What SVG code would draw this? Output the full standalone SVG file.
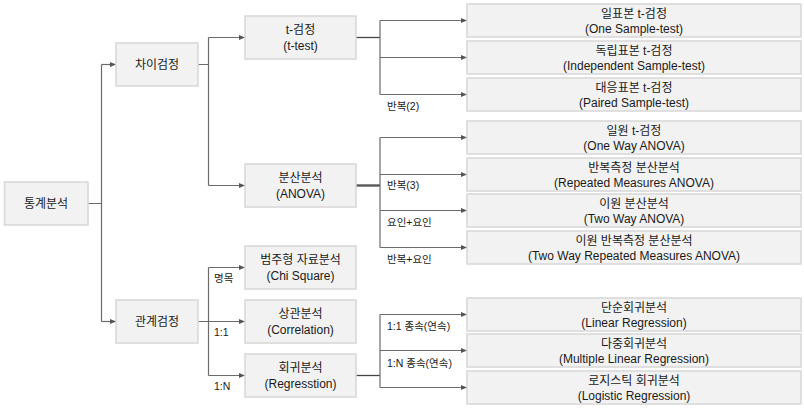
<svg xmlns="http://www.w3.org/2000/svg" width="804" height="408" viewBox="0 0 804 408">
<defs>
<style>
.box{fill:#f2f2f2;stroke:#d9d9d9;stroke-width:1.6}
.t{font-family:"Liberation Sans","Noto Sans CJK KR",sans-serif;font-size:12px;fill:#1a1a1a;text-anchor:middle}
.l{font-family:"Liberation Sans","Noto Sans CJK KR",sans-serif;font-size:10.5px;fill:#1a1a1a}
.c{fill:none;stroke:#6b6b6b;stroke-width:1.2}
.d{fill:none;stroke:#454545;stroke-width:1.3}
.a{fill:none;stroke:#6b6b6b;stroke-width:1.2;marker-end:url(#ah)}
.thick{fill:none;stroke:#595959;stroke-width:2.4}
</style>
<marker id="ah" viewBox="0 0 6 6" refX="6" refY="3" markerWidth="6" markerHeight="6" markerUnits="userSpaceOnUse" orient="auto">
<path d="M0,0.5 L6,3 L0,5.5 Z" fill="#555"/>
</marker>
</defs>
<rect width="804" height="408" fill="#fff"/>
<g id="connectors">
<path class="c" d="M88,203.5 H101.5 M101.5,64.5 V321.5"/>
<path class="a" d="M101.5,64.5 H116"/>
<path class="a" d="M101.5,321.5 H116"/>
<path class="c" d="M198,64.5 H208.5 M208.5,37.5 V185.5"/>
<path class="a" d="M208.5,37.5 H245"/>
<path class="a" d="M208.5,185.5 H245"/>
<path class="d" d="M356,37.5 H380"/>
<path class="c" d="M380,20.5 V94.5"/>
<path class="a" d="M380,20.5 H467"/>
<path class="a" d="M380,57.5 H467"/>
<path class="a" d="M380,94.5 H467"/>
<path class="thick" d="M356,185.5 H380"/>
<path class="c" d="M380,137.5 V247.5"/>
<path class="a" d="M380,137.5 H467"/>
<path class="a" d="M380,174.5 H467"/>
<path class="a" d="M380,210.5 H467"/>
<path class="a" d="M380,247.5 H467"/>
<path class="c" d="M198,321.5 H208.5 M208.5,267.5 V375.5"/>
<path class="a" d="M208.5,267.5 H245"/>
<path class="a" d="M208.5,321.5 H245"/>
<path class="a" d="M208.5,375.5 H245"/>
<path class="d" d="M356,375.5 H380"/>
<path class="c" d="M380,314.5 V387.5"/>
<path class="a" d="M380,314.5 H467"/>
<path class="a" d="M380,350.5 H467"/>
<path class="a" d="M380,387.5 H467"/>
<text class="l" x="387" y="110">반복(2)</text>
<text class="l" x="387" y="189">반복(3)</text>
<text class="l" x="387" y="225.5">요인+요인</text>
<text class="l" x="387" y="263">반복+요인</text>
<text class="l" x="387" y="329.5">1:1 종속(연속)</text>
<text class="l" x="387" y="366.5">1:N 종속(연속)</text>
<text class="l" x="214" y="282">명목</text>
<text class="l" x="214" y="335.5">1:1</text>
<text class="l" x="214" y="390">1:N</text>
</g>
<g id="n-stat"><rect class="box" x="4.5" y="182" width="83.5" height="43"/><text class="t" x="46" y="207.5">통계분석</text></g>
<g id="n-diff"><rect class="box" x="116" y="43" width="82" height="43"/><text class="t" x="157" y="68.5">차이검정</text></g>
<g id="n-rel"><rect class="box" x="116" y="300" width="82" height="43"/><text class="t" x="157" y="325.5">관계검정</text></g>
<g id="n-ttest"><rect class="box" x="245" y="16" width="111" height="43"/><text class="t" x="300.5" y="34">t-검정</text><text class="t" x="300.5" y="49.5">(t-test)</text></g>
<g id="n-anova"><rect class="box" x="245" y="164" width="111" height="43"/><text class="t" x="300.5" y="182">분산분석</text><text class="t" x="300.5" y="197.5">(ANOVA)</text></g>
<g id="n-chi"><rect class="box" x="245" y="246" width="111" height="43"/><text class="t" x="300.5" y="264">범주형 자료분석</text><text class="t" x="300.5" y="279.5">(Chi Square)</text></g>
<g id="n-corr"><rect class="box" x="245" y="300" width="111" height="43"/><text class="t" x="300.5" y="318">상관분석</text><text class="t" x="300.5" y="333.5">(Correlation)</text></g>
<g id="n-reg"><rect class="box" x="245" y="354" width="111" height="43"/><text class="t" x="300.5" y="372">회귀분석</text><text class="t" x="300.5" y="387.5">(Regresstion)</text></g>
<g id="n-one"><rect class="box" x="467" y="4" width="334" height="33"/><text class="t" x="634" y="17.5">일표본 t-검정</text><text class="t" x="634" y="32.5">(One Sample-test)</text></g>
<g id="n-ind"><rect class="box" x="467" y="41" width="334" height="33"/><text class="t" x="634" y="54.5">독립표본 t-검정</text><text class="t" x="634" y="69.5">(Independent Sample-test)</text></g>
<g id="n-pair"><rect class="box" x="467" y="78" width="334" height="33"/><text class="t" x="634" y="91.5">대응표본 t-검정</text><text class="t" x="634" y="106.5">(Paired Sample-test)</text></g>
<g id="n-oneway"><rect class="box" x="467" y="121" width="334" height="33"/><text class="t" x="634" y="134.5">일원 t-검정</text><text class="t" x="634" y="149.5">(One Way ANOVA)</text></g>
<g id="n-rm"><rect class="box" x="467" y="158" width="334" height="33"/><text class="t" x="634" y="171.5">반복측정 분산분석</text><text class="t" x="634" y="186.5">(Repeated Measures ANOVA)</text></g>
<g id="n-twoway"><rect class="box" x="467" y="194" width="334" height="33"/><text class="t" x="634" y="207.5">이원 분산분석</text><text class="t" x="634" y="222.5">(Two Way ANOVA)</text></g>
<g id="n-twrm"><rect class="box" x="467" y="231" width="334" height="33"/><text class="t" x="634" y="244.5">이원 반복측정 분산분석</text><text class="t" x="634" y="259.5">(Two Way Repeated Measures ANOVA)</text></g>
<g id="n-lin"><rect class="box" x="467" y="298" width="334" height="33"/><text class="t" x="634" y="311.5">단순회귀분석</text><text class="t" x="634" y="326.5">(Linear Regression)</text></g>
<g id="n-mlr"><rect class="box" x="467" y="334" width="334" height="33"/><text class="t" x="634" y="347.5">다중회귀분석</text><text class="t" x="634" y="362.5">(Multiple Linear Regression)</text></g>
<g id="n-log"><rect class="box" x="467" y="371" width="334" height="33"/><text class="t" x="634" y="384.5">로지스틱 회귀분석</text><text class="t" x="634" y="399.5">(Logistic Regression)</text></g>
</svg>
